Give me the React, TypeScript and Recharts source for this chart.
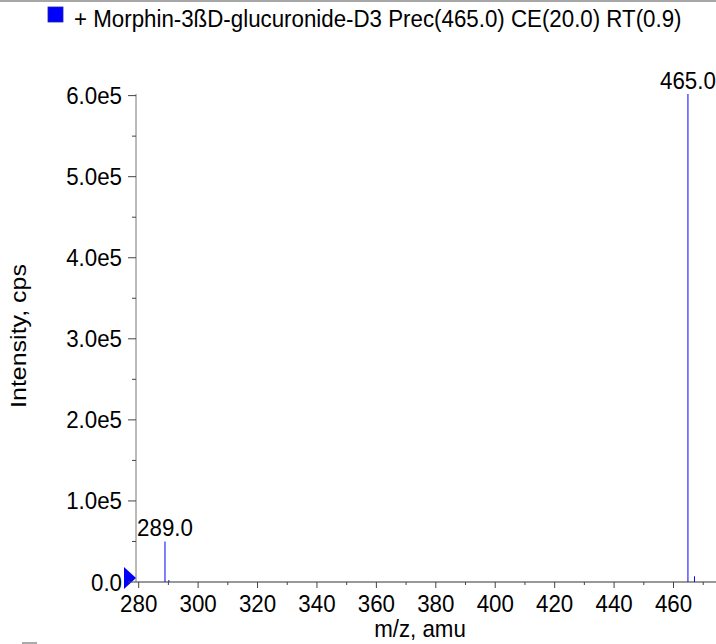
import React from "react";
import {
  ComposedChart,
  Bar,
  XAxis,
  YAxis,
  LabelList,
  ReferenceDot,
} from "recharts";

// spectrum sticks
const mzValues = [289.0, 290.3, 465.0, 467.2];
const intensities = [50000, 2500, 602000, 7000];
const peakLabels = ["289.0", "", "465.0", ""];

const xTicks = [280, 290, 300, 310, 320, 330, 340, 350, 360, 370, 380, 390, 400, 410, 420, 430, 440, 450, 460, 470];
const yTicks = [0, 50000, 100000, 150000, 200000, 250000, 300000, 350000, 400000, 450000, 500000, 550000, 600000];
const yTickLabels = ["0.0", "", "1.0e5", "", "2.0e5", "", "3.0e5", "", "4.0e5", "", "5.0e5", "", "6.0e5"];

const title = "+ Morphin-3ßD-glucuronide-D3 Prec(465.0) CE(20.0) RT(0.9)";

const X_MIN = 279.1;
const X_MAX = 474.3;
const Y_MAX = 602000;

const FONT = "'Liberation Sans', Arial, Helvetica, sans-serif";
const FS = 24;
const SX = 0.93;

const data = mzValues.map((mz, i) => ({
  mz,
  intensity: intensities[i],
  label: peakLabels[i],
}));

// the original glyphs are a bit taller than wide, so squeeze horizontally
function StretchText({ x, y, anchor = "start", size = FS, children }: any) {
  return (
    <text
      transform={`translate(${x} ${y}) scale(${SX} 1)`}
      textAnchor={anchor}
      fontFamily={FONT}
      fontSize={size}
      fill="#000"
    >
      {children}
    </text>
  );
}

function XTick({ x, y, payload }: any) {
  const major = payload.value % 20 === 0;
  return (
    <g>
      <line x1={x} x2={x} y1={y} y2={y + (major ? 6 : 3)} stroke="#444" strokeWidth={1} />
      {major && (
        <StretchText x={x} y={y + 30} anchor="middle">
          {payload.value}
        </StretchText>
      )}
    </g>
  );
}

function YTick({ x, y, payload, index }: any) {
  const label = yTickLabels[index];
  const major = label !== "";
  return (
    <g>
      <line x1={x - (major ? 8 : 4)} x2={x} y1={y} y2={y} stroke="#444" strokeWidth={1} />
      {major && (
        <StretchText x={x - 14} y={y + 8.5} anchor="end">
          {label}
        </StretchText>
      )}
    </g>
  );
}

function PeakLabel({ x, y, width, value }: any) {
  if (!value) return null;
  return (
    <StretchText x={x + width / 2} y={y - 5} anchor="middle">
      {value}
    </StretchText>
  );
}

function OriginMarker({ cx, cy }: any) {
  return (
    <polygon
      points={`${cx - 12},${cy - 15} ${cx},${cy - 4} ${cx - 12},${cy + 7}`}
      fill="#0000ff"
    />
  );
}

export default function App() {
  return (
    <div style={{ position: "absolute", left: 0, top: 0, width: 716, height: 644, background: "#fff" }}>
      <ComposedChart
        width={716}
        height={644}
        data={data}
        margin={{ top: 94, right: 0, bottom: 0, left: 0 }}
      >
        <XAxis
          dataKey="mz"
          type="number"
          domain={[X_MIN, X_MAX]}
          ticks={xTicks}
          interval={0}
          height={62}
          tickSize={0}
          tickMargin={0}
          tickLine={false}
          stroke="#333"
          tick={<XTick />}
          label={{
            content: ({ viewBox }: any) => (
              <StretchText x={viewBox.x + viewBox.width / 2 - 6} y={637} anchor="middle">
                m/z, amu
              </StretchText>
            ),
          }}
        />
        <YAxis
          type="number"
          domain={[0, Y_MAX]}
          ticks={yTicks}
          interval={0}
          width={136}
          tickSize={0}
          tickMargin={0}
          tickLine={false}
          stroke="#777"
          tick={<YTick />}
          label={{
            content: () => (
              <text
                transform="translate(26 336) rotate(-90) scale(1.12 1)"
                textAnchor="middle"
                fontFamily={FONT}
                fontSize={22.3}
                fill="#000"
              >
                Intensity, cps
              </text>
            ),
          }}
        />
        <Bar dataKey="intensity" fill="#0000ff" barSize={1} isAnimationActive={false}>
          <LabelList dataKey="label" content={<PeakLabel />} />
        </Bar>
        <ReferenceDot x={X_MIN} y={0} r={0} shape={<OriginMarker />} />
      </ComposedChart>
      <svg
        width={716}
        height={644}
        style={{ position: "absolute", left: 0, top: 0, pointerEvents: "none" }}
      >
        <line x1={0} x2={716} y1={1} y2={1} stroke="#888" strokeWidth={1.5} />
        <rect x={48} y={7} width={15} height={15} fill="#0000ff" stroke="#2222aa" strokeWidth={0.8} />
        <StretchText x={74} y={27}>
          {title}
        </StretchText>
        <rect x={22} y={642} width={15} height={2} fill="#aaa" />
      </svg>
    </div>
  );
}
